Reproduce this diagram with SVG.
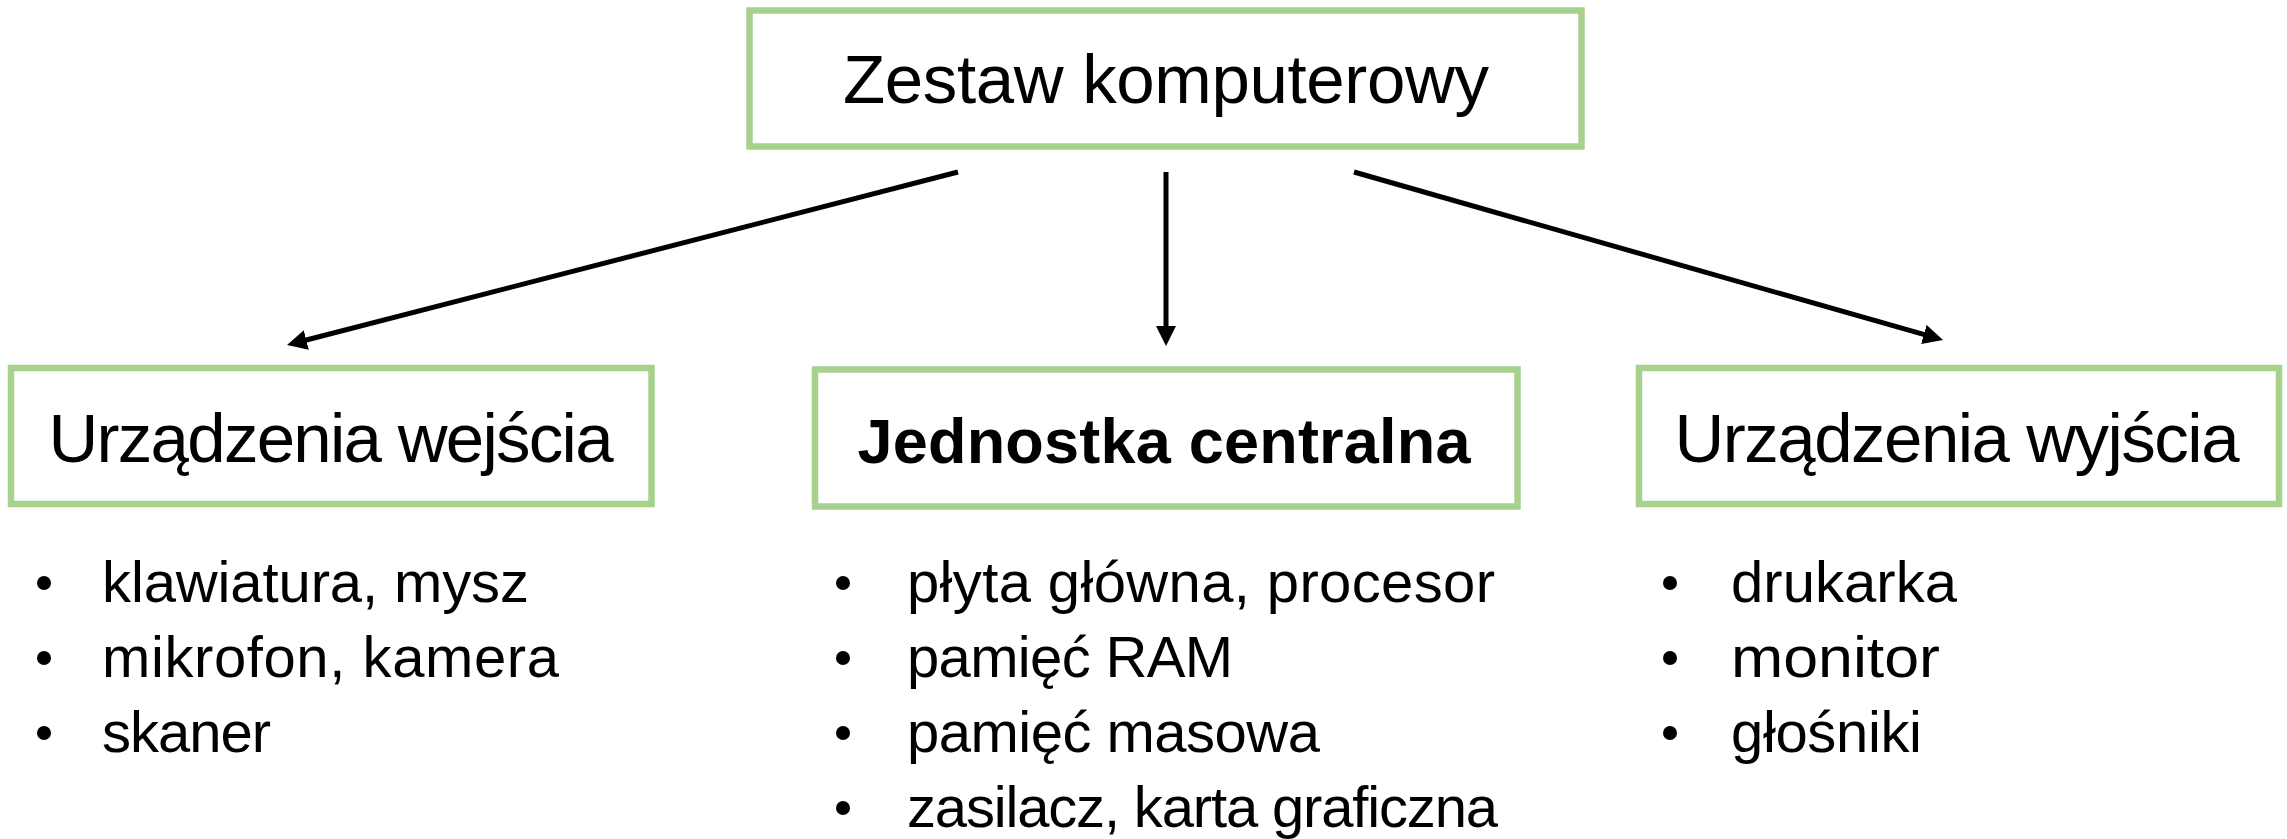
<svg xmlns="http://www.w3.org/2000/svg" width="2287" height="839" viewBox="0 0 2287 839">
<style>
.box{fill:#ffffff;stroke:#A9D18E;stroke-width:6.5}
.hd{font-family:"Liberation Sans",Arial,sans-serif;font-size:69px;fill:#000000}
.bold{font-weight:bold;font-size:63px}
.li{font-family:"Liberation Sans",Arial,sans-serif;font-size:58px;fill:#000000}
.conn{stroke:#000000;stroke-width:5;fill:none}
.bul{fill:#000000}
</style>
<defs>
<marker id="ah" markerUnits="userSpaceOnUse" markerWidth="20" markerHeight="20" viewBox="0 0 20 20" refX="8" refY="10" orient="auto">
<path d="M0,0 L20,10 L0,20 z" fill="#000000"/>
</marker>
</defs>
<rect width="2287" height="839" fill="#ffffff"/>
<g id="connectors">
<line class="conn" x1="958" y1="172" x2="298.6" y2="342" marker-end="url(#ah)"/>
<line class="conn" x1="1166" y1="172" x2="1166" y2="334" marker-end="url(#ah)"/>
<line class="conn" x1="1354" y1="172" x2="1931.5" y2="336.7" marker-end="url(#ah)"/>
</g>
<g id="node-zestaw">
<rect class="box" x="749.5" y="10.5" width="832" height="136"/>
<text class="hd" x="1166" y="103" text-anchor="middle" textLength="646">Zestaw komputerowy</text>
</g>
<g id="node-wejscia">
<rect class="box" x="11" y="368" width="640.5" height="136"/>
<text class="hd" x="331" y="462" text-anchor="middle" textLength="565">Urządzenia wejścia</text>
</g>
<g id="node-jednostka">
<rect class="box" x="815" y="369.5" width="702.5" height="137"/>
<text class="hd bold" x="1164" y="463" text-anchor="middle" textLength="613">Jednostka centralna</text>
</g>
<g id="node-wyjscia">
<rect class="box" x="1639" y="368" width="640" height="136"/>
<text class="hd" x="1957" y="462" text-anchor="middle" textLength="565">Urządzenia wyjścia</text>
</g>
<g id="list-wejscia">
<circle class="bul" cx="44" cy="583" r="7"/>
<circle class="bul" cx="44" cy="658" r="7"/>
<circle class="bul" cx="44" cy="733" r="7"/>
<text class="li" x="102" y="602" textLength="427">klawiatura, mysz</text>
<text class="li" x="102" y="677" textLength="457">mikrofon, kamera</text>
<text class="li" x="102" y="752" textLength="169">skaner</text>
</g>
<g id="list-jednostka">
<circle class="bul" cx="843" cy="583" r="7"/>
<circle class="bul" cx="843" cy="658" r="7"/>
<circle class="bul" cx="843" cy="733" r="7"/>
<circle class="bul" cx="843" cy="808" r="7"/>
<text class="li" x="907" y="602" textLength="588">płyta główna, procesor</text>
<text class="li" x="907" y="677" textLength="326">pamięć RAM</text>
<text class="li" x="907" y="752" textLength="413">pamięć masowa</text>
<text class="li" x="907" y="827" textLength="591">zasilacz, karta graficzna</text>
</g>
<g id="list-wyjscia">
<circle class="bul" cx="1670" cy="583" r="7"/>
<circle class="bul" cx="1670" cy="658" r="7"/>
<circle class="bul" cx="1670" cy="733" r="7"/>
<text class="li" x="1731" y="602" textLength="226">drukarka</text>
<text class="li" x="1731" y="677" textLength="209" lengthAdjust="spacingAndGlyphs">monitor</text>
<text class="li" x="1731" y="752" textLength="191">głośniki</text>
</g>
</svg>
